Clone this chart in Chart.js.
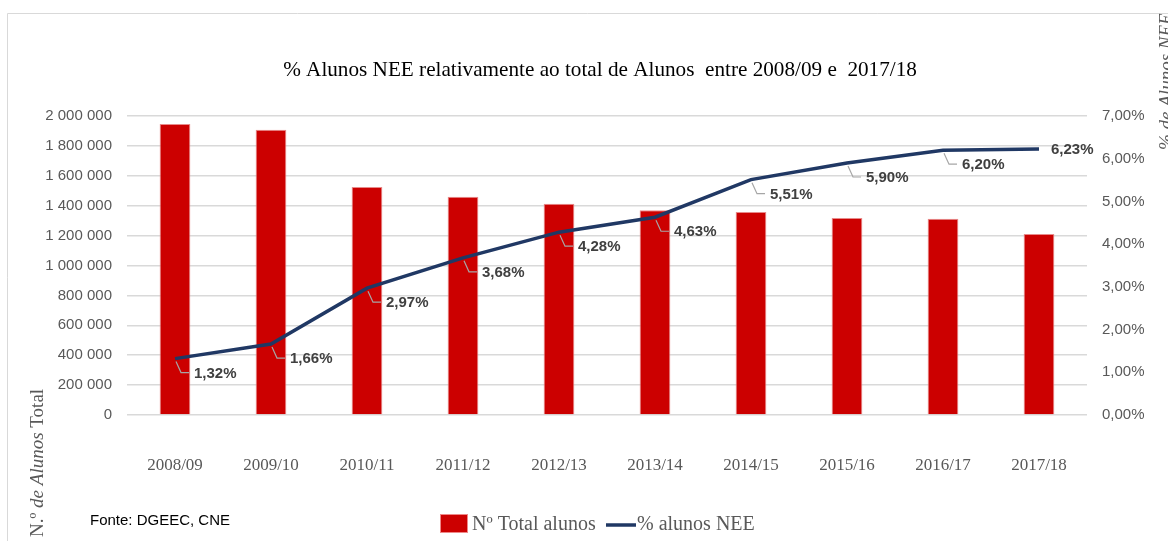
<!DOCTYPE html>
<html>
<head>
<meta charset="utf-8">
<script src="https://cdn.jsdelivr.net/npm/chart.js@4.4.1/dist/chart.umd.min.js"></script>
<style>
html,body{margin:0;padding:0;background:#fff;}
#wrap{width:1168px;height:541px;position:relative;}
</style>
</head>
<body>
<div id="wrap"><canvas id="c" width="1168" height="541"></canvas></div>
<script>
const categories = ['2008/09','2009/10','2010/11','2011/12','2012/13','2013/14','2014/15','2015/16','2016/17','2017/18'];
const totalAlunos = [1946000,1908000,1525000,1460000,1413000,1369000,1358000,1318000,1313000,1211000];
const pctNEE = [1.32,1.66,2.97,3.68,4.28,4.63,5.51,5.90,6.20,6.23];
const leftTicks = [0,200000,400000,600000,800000,1000000,1200000,1400000,1600000,1800000,2000000];
const rightTicks = [0,1,2,3,4,5,6,7];
const titleText = '% Alunos NEE relativamente ao total de Alunos  entre 2008/09 e  2017/18';
const leftTitleParts = [['N.º ', false], ['de Alunos ', true], ['Total', false]];
const rightTitle = '% de Alunos NEE';
const sourceText = 'Fonte: DGEEC, CNE';
const legendLabels = ['Nº Total alunos','% alunos NEE'];

const RED = '#CC0000';
const NAVY = '#203864';
const GRAY = '#595959';
const SERIF = '"Liberation Serif", "DejaVu Serif", serif';
const SANS = '"Liberation Sans", Arial, sans-serif';

const fmtThousands = v => String(v).replace(/\B(?=(\d{3})+(?!\d))/g, ' ');
const fmtPct = v => v.toFixed(2).replace('.', ',') + '%';

const decor = {
  id: 'decor',
  beforeDraw(chart) {
    const ctx = chart.ctx;
    ctx.save();
    ctx.fillStyle = '#fff';
    ctx.fillRect(0, 0, chart.width, chart.height);
    ctx.strokeStyle = '#d9d9d9';
    ctx.lineWidth = 1;
    ctx.beginPath();
    ctx.moveTo(7.5, 541);
    ctx.lineTo(7.5, 13.5);
    ctx.lineTo(1168, 13.5);
    ctx.stroke();
    ctx.restore();
  },
  afterDraw(chart) {
    const ctx = chart.ctx;
    ctx.save();
    // title
    ctx.fillStyle = '#000';
    ctx.textAlign = 'center';
    ctx.textBaseline = 'middle';
    let fs = 22;
    ctx.font = fs + 'px ' + SERIF;
    const w = ctx.measureText(titleText).width;
    fs = fs * 634 / w;
    ctx.font = fs + 'px ' + SERIF;
    ctx.fillText(titleText, 600, 70);

    // left axis title (mixed upright / italic)
    ctx.save();
    ctx.translate(38, 537);
    ctx.rotate(-Math.PI / 2);
    ctx.fillStyle = GRAY;
    ctx.textAlign = 'left';
    ctx.textBaseline = 'middle';
    let px = 0;
    leftTitleParts.forEach(([t, it]) => {
      ctx.font = (it ? 'italic ' : '') + '19px ' + SERIF;
      ctx.fillText(t, px, 0);
      px += ctx.measureText(t).width;
    });
    ctx.restore();

    // right axis title (clipped by canvas edge as in reference)
    ctx.save();
    ctx.translate(1167, 150);
    ctx.rotate(-Math.PI / 2);
    ctx.fillStyle = GRAY;
    ctx.textAlign = 'left';
    ctx.textBaseline = 'middle';
    ctx.font = 'italic 19px ' + SERIF;
    ctx.fillText(rightTitle, 0, 0);
    ctx.restore();

    // source
    ctx.fillStyle = '#000';
    ctx.textAlign = 'left';
    ctx.textBaseline = 'middle';
    ctx.font = '15px "Liberation Sans", "Open Sans", sans-serif';
    ctx.fillText(sourceText, 90, 521);

    // legend
    ctx.fillStyle = RED;
    ctx.fillRect(440, 514, 28, 19);
    ctx.strokeStyle = '#e88';
    ctx.lineWidth = 1;
    ctx.strokeRect(440.5, 514.5, 27, 18);
    ctx.fillStyle = GRAY;
    ctx.font = '20px ' + SERIF;
    ctx.textBaseline = 'middle';
    ctx.fillText(legendLabels[0], 472, 525);
    ctx.strokeStyle = NAVY;
    ctx.lineWidth = 3.5;
    ctx.beginPath();
    ctx.moveTo(606, 525);
    ctx.lineTo(636, 525);
    ctx.stroke();
    ctx.fillText(legendLabels[1], 637, 525);
    ctx.restore();
  }
};

const dataLabels = {
  id: 'dataLabels',
  afterDatasetsDraw(chart) {
    const ctx = chart.ctx;
    const meta = chart.getDatasetMeta(1);
    ctx.save();
    ctx.font = 'bold 15px ' + SANS;
    ctx.fillStyle = '#404040';
    ctx.textBaseline = 'middle';
    ctx.textAlign = 'left';
    meta.data.forEach((pt, i) => {
      const x = pt.x, y = pt.y;
      const txt = fmtPct(pctNEE[i]);
      if (i === meta.data.length - 1) {
        ctx.fillText(txt, x + 12, y + 1);
        return;
      }
      ctx.strokeStyle = '#a6a6a6';
      ctx.lineWidth = 1.2;
      ctx.beginPath();
      ctx.moveTo(x + 1, y + 3);
      ctx.lineTo(x + 6, y + 14);
      ctx.lineTo(x + 14, y + 14);
      ctx.stroke();
      ctx.fillText(txt, x + 19, y + 15);
    });
    ctx.restore();
  }
};

new Chart(document.getElementById('c'), {
  data: {
    labels: categories,
    datasets: [
      {
        type: 'bar',
        label: legendLabels[0],
        data: totalAlunos,
        backgroundColor: RED,
        borderColor: '#e88a8a',
        borderWidth: 1,
        barPercentage: 0.32,
        categoryPercentage: 1,
        yAxisID: 'y',
        order: 1
      },
      {
        type: 'line',
        label: legendLabels[1],
        data: pctNEE,
        borderColor: NAVY,
        borderWidth: 3.5,
        pointRadius: 0,
        tension: 0,
        fill: false,
        yAxisID: 'y1',
        order: 0
      }
    ]
  },
  options: {
    responsive: false,
    animation: false,
    layout: { padding: { top: 116, bottom: 66, left: 0, right: 0 } },
    plugins: { legend: { display: false }, title: { display: false }, tooltip: { enabled: false } },
    scales: {
      x: {
        grid: { display: false, drawTicks: false },
        border: { display: false },
        ticks: { color: GRAY, font: { family: SERIF, size: 17 }, padding: 40, maxRotation: 0 },
        afterFit: s => { s.height = 60; }
      },
      y: {
        position: 'left',
        min: 0, max: 2000000,
        afterBuildTicks: s => { s.ticks = leftTicks.map(v => ({ value: v })); },
        grid: { color: '#d9d9d9', lineWidth: 1.5, drawTicks: false },
        border: { display: false },
        ticks: { color: GRAY, font: { family: SANS, size: 15 }, padding: 15, callback: v => fmtThousands(v) },
        afterFit: s => { s.width = 127; }
      },
      y1: {
        position: 'right',
        min: 0, max: 7,
        afterBuildTicks: s => { s.ticks = rightTicks.map(v => ({ value: v })); },
        grid: { display: false, drawTicks: false },
        border: { display: false },
        ticks: { color: GRAY, font: { family: SANS, size: 15 }, padding: 15, callback: v => fmtPct(v) },
        afterFit: s => { s.width = 81; }
      }
    }
  },
  plugins: [decor, dataLabels]
});
</script>
</body>
</html>
